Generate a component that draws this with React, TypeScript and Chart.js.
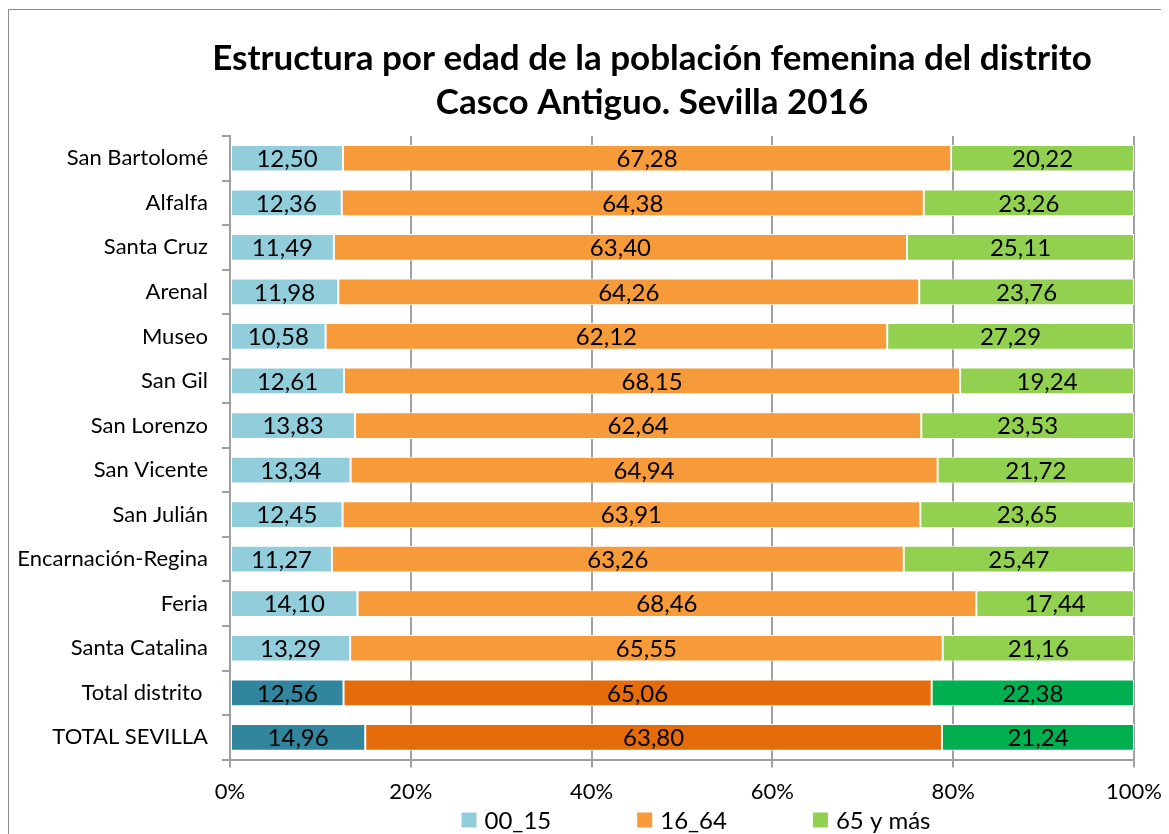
import React, { useEffect, useRef } from "react";
import { Chart, registerables } from "chart.js";

Chart.register(...registerables);

const titleLines = [
  "Estructura por edad de la población femenina del distrito",
  "Casco Antiguo. Sevilla 2016",
];

const categories = [
  "San Bartolomé",
  "Alfalfa",
  "Santa Cruz",
  "Arenal",
  "Museo",
  "San Gil",
  "San Lorenzo",
  "San Vicente",
  "San Julián",
  "Encarnación-Regina",
  "Feria",
  "Santa Catalina",
  "Total distrito ",
  "TOTAL SEVILLA",
];

const totalCategories = ["Total distrito ", "TOTAL SEVILLA"];

const seriesNames = ["00_15", "16_64", "65 y más"];

const values00_15 = [12.5, 12.36, 11.49, 11.98, 10.58, 12.61, 13.83, 13.34, 12.45, 11.27, 14.1, 13.29, 12.56, 14.96];
const values16_64 = [67.28, 64.38, 63.4, 64.26, 62.12, 68.15, 62.64, 64.94, 63.91, 63.26, 68.46, 65.55, 65.06, 63.8];
const values65 = [20.22, 23.26, 25.11, 23.76, 27.29, 19.24, 23.53, 21.72, 23.65, 25.47, 17.44, 21.16, 22.38, 21.24];

const xTickLabels = ["0%", "20%", "40%", "60%", "80%", "100%"];

const FONT = "Lato, 'Open Sans', sans-serif";

const lightColors = ["#92CDDC", "#F79A3A", "#92D050"];
const darkColors = ["#31859C", "#E46C0A", "#00B050"];
const axisGray = "#a0a0a0";

const fmt = (v: number) => v.toFixed(2).replace(".", ",");

const framePlugin = {
  id: "frame",
  beforeDraw(chart: any) {
    const { ctx, width, height } = chart;
    ctx.save();
    ctx.fillStyle = "#ffffff";
    ctx.fillRect(0, 0, width, height);
    ctx.strokeStyle = "#8a8a8a";
    ctx.lineWidth = 1;
    ctx.beginPath();
    ctx.moveTo(0.5, height);
    ctx.lineTo(0.5, 1.5);
    ctx.lineTo(width, 1.5);
    ctx.stroke();
    ctx.restore();
  },
};

const dataLabelPlugin = {
  id: "dataLabels",
  afterDatasetsDraw(chart: any) {
    const { ctx } = chart;
    ctx.save();
    ctx.font = `24px ${FONT}`;
    ctx.fillStyle = "#000000";
    ctx.textAlign = "center";
    ctx.textBaseline = "middle";
    chart.data.datasets.forEach((ds: any, di: number) => {
      const meta = chart.getDatasetMeta(di);
      meta.data.forEach((bar: any, i: number) => {
        const p = bar.getProps(["x", "y", "base"], true);
        ctx.fillText(fmt(ds.data[i]), (p.x + p.base) / 2, p.y + 1);
      });
    });
    ctx.restore();
  },
};

const legendPlugin = {
  id: "customLegend",
  afterDraw(chart: any) {
    const { ctx, chartArea } = chart;
    ctx.save();
    ctx.font = `24px ${FONT}`;
    ctx.textBaseline = "middle";
    ctx.textAlign = "left";
    const box = 15;
    const gap = 8;
    const spacing = 86;
    const items = chart.data.datasets.map((ds: any) => ({
      label: ds.label as string,
      color: ds.legendColor as string,
      w: ctx.measureText(ds.label).width,
    }));
    const total =
      items.reduce((s: number, it: any) => s + box + gap + it.w, 0) + spacing * (items.length - 1);
    let x = (chartArea.left + chartArea.right) / 2 - total / 2 + 14;
    const y = chart.height - 14;
    items.forEach((it: any) => {
      ctx.fillStyle = it.color;
      ctx.fillRect(x, y - box / 2, box, box);
      ctx.fillStyle = "#000000";
      ctx.fillText(it.label, x + box + gap, y + 1);
      x += box + gap + it.w + spacing;
    });
    ctx.restore();
  },
};

export default function App() {
  const ref = useRef<HTMLCanvasElement | null>(null);

  useEffect(() => {
    if (!ref.current) return;
    const seriesValues = [values00_15, values16_64, values65];
    const chart = new Chart(ref.current, {
      type: "bar",
      data: {
        labels: categories,
        datasets: seriesNames.map((name, si) => ({
          label: name,
          data: seriesValues[si],
          legendColor: lightColors[si],
          backgroundColor: categories.map((c) =>
            totalCategories.includes(c) ? darkColors[si] : lightColors[si]
          ),
          borderColor: "#ffffff",
          borderWidth: 1,
          borderSkipped: false,
          categoryPercentage: 1,
          barPercentage: 0.6,
        })) as any,
      },
      options: {
        indexAxis: "y",
        responsive: false,
        animation: false,
        layout: { padding: { left: 0, right: 0, top: 0, bottom: 18 } },
        scales: {
          x: {
            stacked: true,
            min: 0,
            max: 100,
            ticks: {
              stepSize: 20,
              color: "#000000",
              font: { family: FONT, size: 22 },
              padding: 11,
              callback: (_v: any, i: number) => xTickLabels[i],
            },
            grid: {
              color: axisGray,
              lineWidth: 2,
              drawTicks: true,
              tickLength: 8,
            },
            border: { display: true, color: axisGray, width: 2 },
            afterFit: (scale: any) => {
              scale.paddingRight = 162;
            },
          },
          y: {
            stacked: true,
            ticks: {
              color: "#000000",
              font: { family: FONT, size: 22 },
              padding: 14,
              autoSkip: false,
            },
            grid: {
              drawOnChartArea: false,
              drawTicks: true,
              tickLength: 8,
              color: axisGray,
              lineWidth: 2,
              offset: true,
            },
            border: { display: true, color: axisGray, width: 2 },
            afterFit: (scale: any) => {
              scale.width = 222;
            },
          },
        },
        plugins: {
          legend: { display: false },
          tooltip: { enabled: false },
          title: {
            display: true,
            text: titleLines,
            color: "#000000",
            font: { family: FONT, size: 35, weight: "bold", lineHeight: 1.257 },
            padding: { top: 29, bottom: 11 },
          },
        },
      } as any,
      plugins: [framePlugin, dataLabelPlugin, legendPlugin],
    });
    return () => chart.destroy();
  }, []);

  return (
    <div style={{ width: 1161, height: 826, overflow: "hidden" }}>
      <canvas ref={ref} width={1288} height={826} style={{ display: "block" }} />
    </div>
  );
}
